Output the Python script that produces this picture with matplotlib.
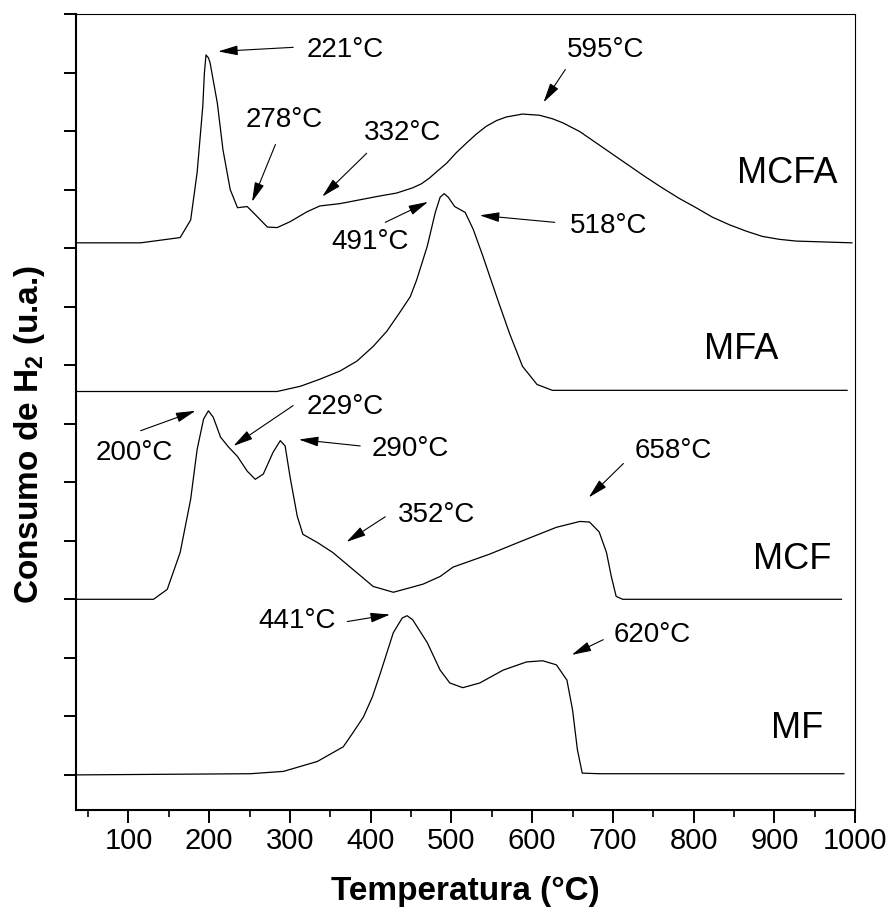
import numpy as np
import matplotlib
matplotlib.use('Agg')
import matplotlib.pyplot as plt
from matplotlib.ticker import MultipleLocator

plt.rcParams['font.family'] = ['Liberation Sans', 'DejaVu Sans']
plt.rcParams['mathtext.fontset'] = 'custom'
plt.rcParams['mathtext.rm'] = 'Liberation Sans'
plt.rcParams['mathtext.bf'] = 'Liberation Sans:bold'

# curvas de TPR (temperatura em °C, sinal relativo à linha de base)
mf_temp = [36, 251, 292, 334, 366, 378, 391, 402, 412, 428, 439, 445, 452, 470, 486, 498, 514,
           535, 564, 593, 613, 630, 643, 650, 656, 662, 683, 986]
mf_sig = [0, 0.02, 0.06, 0.23, 0.48, 0.72, 0.99, 1.33, 1.74, 2.43, 2.68, 2.72, 2.65, 2.26, 1.79,
          1.57, 1.49, 1.57, 1.79, 1.93, 1.95, 1.88, 1.62, 1.11, 0.43, 0.03, 0.02, 0.02]

mcf_temp = [36, 131, 148, 164, 177, 185, 193, 199, 205, 214, 224, 235, 247, 257, 267, 279, 288,
            294, 300, 309, 316, 334, 353, 378, 403, 428, 452, 465, 486, 502, 547, 588, 630,
            659, 671, 683, 692, 698, 704, 712, 983]
mcf_sig = [0, 0, 0.17, 0.8, 1.71, 2.56, 3.08, 3.22, 3.11, 2.77, 2.6, 2.44, 2.19, 2.05, 2.14, 2.51,
           2.71, 2.62, 2.1, 1.42, 1.11, 0.97, 0.8, 0.51, 0.22, 0.12, 0.21, 0.26, 0.39, 0.55, 0.77,
           1.0, 1.23, 1.33, 1.32, 1.15, 0.8, 0.39, 0.05, 0, 0]

mfa_temp = [36, 284, 313, 337, 362, 383, 403, 420, 436, 449, 457, 470, 480, 486, 491, 496, 504,
            517, 527, 539, 556, 572, 588, 606, 625, 659, 990]
mfa_sig = [0, 0, 0.09, 0.21, 0.35, 0.52, 0.77, 1.03, 1.35, 1.62, 1.91, 2.48, 3.06, 3.32, 3.38,
           3.32, 3.16, 3.06, 2.77, 2.31, 1.62, 0.99, 0.43, 0.12, 0.02, 0.02, 0.02]

mcfa_temp = [36, 115, 164, 177, 185, 192, 194, 196, 199, 201, 210, 217, 226, 235, 247, 255, 272,
             284, 300, 321, 337, 362, 411, 432, 452, 463, 473, 483, 494, 506, 519, 531, 543, 556,
             568, 588, 609, 625, 638, 659, 679, 700, 721, 741, 761, 782, 803, 823, 844, 865, 885,
             906, 927, 996]
mcfa_sig = [0, 0, 0.09, 0.39, 1.2, 2.33, 2.9, 3.21, 3.16, 3.08, 2.39, 1.59, 0.91, 0.6, 0.62, 0.51,
            0.27, 0.26, 0.36, 0.53, 0.63, 0.67, 0.8, 0.85, 0.94, 1.01, 1.11, 1.23, 1.36, 1.54,
            1.71, 1.86, 1.99, 2.09, 2.15, 2.2, 2.18, 2.12, 2.05, 1.9, 1.71, 1.51, 1.31, 1.12, 0.94,
            0.76, 0.6, 0.44, 0.31, 0.2, 0.11, 0.06, 0.03, 0]

amostras = ['MF', 'MCF', 'MFA', 'MCFA']
deslocamento = [0, 3.0, 6.55, 9.09]

# rótulos dos picos: texto, posição do texto, início e ponta da seta
picos = [
    ('221°C', (368, 12.39), (304, 12.43), (211, 12.36)),
    ('278°C', (293, 11.18), (282, 10.77), (253, 9.79)),
    ('332°C', (439, 10.97), (395, 10.62), (340, 9.88)),
    ('595°C', (691, 12.39), (641, 12.05), (614, 11.49)),
    ('518°C', (695, 9.37), (628, 9.44), (535, 9.56)),
    ('491°C', (399, 9.11), (418, 9.44), (471, 9.79)),
    ('200°C', (107, 5.50), (115, 5.88), (183, 6.22)),
    ('229°C', (368, 6.29), (304, 6.31), (230, 5.62)),
    ('290°C', (449, 5.56), (387, 5.62), (311, 5.73)),
    ('352°C', (482, 4.44), (418, 4.41), (370, 3.98)),
    ('658°C', (775, 5.54), (713, 5.32), (670, 4.74)),
    ('441°C', (309, 2.63), (371, 2.62), (424, 2.74)),
    ('620°C', (749, 2.39), (688, 2.31), (649, 2.05)),
]
nomes_pos = [(928, 0.80), (922, 3.68), (859, 7.26), (916, 10.27)]

fig = plt.figure(figsize=(8.88, 9.13), dpi=100)
ax = fig.add_axes([0.0856, 0.1128, 0.8774, 0.8719])

curvas = [(mf_temp, mf_sig), (mcf_temp, mcf_sig), (mfa_temp, mfa_sig), (mcfa_temp, mcfa_sig)]
for (t, s), off in zip(curvas, deslocamento):
    ax.plot(t, np.array(s) + off, color='k', lw=0.9)

for nome, (x, y) in zip(amostras, nomes_pos):
    ax.text(x, y, nome, fontsize=26, ha='center', va='center')

for txt, pos, cauda, ponta in picos:
    ax.annotate('', xy=ponta, xytext=cauda,
                arrowprops=dict(arrowstyle='-|>,head_length=0.6,head_width=0.15',
                                color='k', lw=0.8, shrinkA=0, shrinkB=0, mutation_scale=20))
    ax.text(pos[0], pos[1], txt, fontsize=20, ha='center', va='center')

ax.set_xlim(35, 1000)
ax.set_ylim(-0.6, 13)
ax.xaxis.set_major_locator(MultipleLocator(100))
ax.xaxis.set_minor_locator(MultipleLocator(50))
ax.yaxis.set_major_locator(MultipleLocator(1))
ax.set_xticks(np.arange(100, 1001, 100))
ax.tick_params(axis='both', which='major', direction='out', length=9, width=1.4, labelsize=21, pad=3)
ax.tick_params(axis='both', which='minor', direction='out', length=4.8, width=1.2)
ax.tick_params(axis='y', labelleft=False)

ax.spines['left'].set_linewidth(1.5)
ax.spines['bottom'].set_linewidth(1.5)
ax.spines['top'].set_linewidth(0.8)
ax.spines['right'].set_linewidth(0.8)

ax.set_xlabel('Temperatura (°C)', fontsize=24, fontweight='bold')
ax.set_ylabel(r'Consumo de H$_\mathbf{2}$ (u.a.)', fontsize=24, fontweight='bold')
ax.xaxis.set_label_coords(0.5, -0.083)
ax.yaxis.set_label_coords(-0.037, 0.472)

fig.savefig('out.png', dpi=100)
